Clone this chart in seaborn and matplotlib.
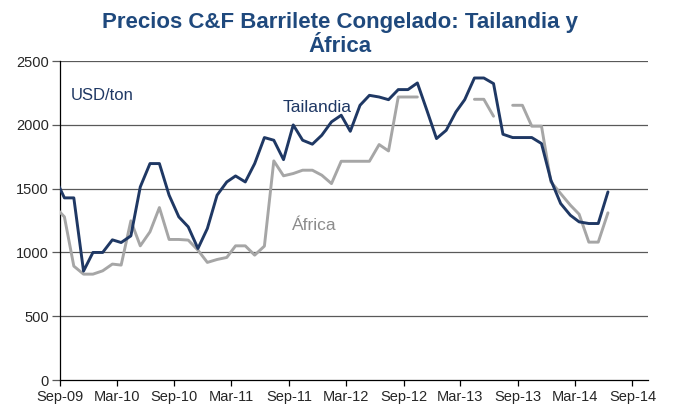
import numpy as np
import pandas as pd
import seaborn as sns
import matplotlib.pyplot as plt

# monthly prices, Aug-09 .. Jun-14 (first point sits just left of the axis)
months = pd.date_range('2009-08-01', '2014-06-01', freq='MS') + pd.Timedelta(days=14)

tailandia = [1590,
             1428, 1428, 854, 1000, 1000, 1099, 1078, 1130, 1514, 1697,
             1697, 1449, 1279, 1201, 1031, 1188, 1449, 1553, 1600, 1553,
             1697, 1901, 1880, 1728, 2000, 1880, 1849, 1919, 2024, 2076,
             1950, 2154, 2232, 2219, 2198, 2277, 2277, 2329, 2110, 1893,
             1958, 2102, 2198, 2368, 2368, 2324, 1927, 1901, 1901, 1901,
             1854, 1567, 1384, 1292, 1240, 1227, 1227, 1475]

africa = [1360,
          1279, 893, 830, 830, 856, 909, 901, 1248, 1052, 1162,
          1352, 1102, 1102, 1097, 1018, 922, 945, 961, 1052, 1052,
          979, 1050, 1718, 1601, 1619, 1645, 1645, 1606, 1540, 1715,
          1715, 1715, 1715, 1846, 1796, 2219, 2219, 2219, np.nan, np.nan,
          np.nan, np.nan, np.nan, 2201, 2201, 2068, np.nan, 2154, 2154, 1990,
          1990, 1554, 1462, 1371, 1300, 1081, 1081, 1311]

tick_dates = pd.date_range('2009-09-01', '2014-09-01', freq='6MS')
tick_labels = ['Sep-09', 'Mar-10', 'Sep-10', 'Mar-11', 'Sep-11', 'Mar-12',
               'Sep-12', 'Mar-13', 'Sep-13', 'Mar-14', 'Sep-14']

navy = '#1f3864'
grey = '#a6a6a6'

df_t = pd.DataFrame({'fecha': months, 'precio': tailandia})
df_a = pd.DataFrame({'fecha': months, 'precio': africa})
# split Africa into runs so the gaps stay open
df_a['tramo'] = df_a['precio'].isna().cumsum()
df_a = df_a.dropna()

sns.set_style("white")
plt.rcParams['font.family'] = ['Liberation Sans', 'DejaVu Sans']

fig = plt.figure(figsize=(6.79, 4.05), dpi=100)
ax = fig.add_axes([0.0884, 0.0617, 0.8656, 0.7873])

for y in [500, 1000, 1500, 2000, 2500]:
    ax.axhline(y, color='#595959', lw=0.9, zorder=1)

sns.lineplot(data=df_a, x='fecha', y='precio', units='tramo', estimator=None,
             color=grey, lw=2.1, ax=ax, zorder=3)
sns.lineplot(data=df_t, x='fecha', y='precio', color=navy, lw=2.1, ax=ax, zorder=4)

ax.set_xlim(pd.Timestamp('2009-09-01'), pd.Timestamp('2014-10-20'))
ax.set_ylim(0, 2500)
ax.set_xticks(tick_dates)
ax.set_xticklabels(tick_labels)
ax.set_yticks([0, 500, 1000, 1500, 2000, 2500])
ax.set_xlabel('')
ax.set_ylabel('')
ax.tick_params(axis='x', direction='out', length=4, width=0.9, color='black',
               labelsize=10.5, pad=3)
ax.tick_params(axis='y', direction='out', length=6, width=0.9, color='#595959',
               labelsize=10.5, pad=2)
ax.tick_params(bottom=True, left=True)

for side in ['top', 'right']:
    ax.spines[side].set_visible(False)
ax.spines['left'].set_color('black')
ax.spines['bottom'].set_color('black')
ax.spines['left'].set_linewidth(0.9)
ax.spines['bottom'].set_linewidth(0.9)

ax.text(0.018, 0.893, 'USD/ton', transform=ax.transAxes, color=navy,
        fontsize=12, va='center', ha='left')
ax.text(pd.Timestamp('2011-08-12'), 2140, 'Tailandia', color=navy,
        fontsize=12.5, va='center', ha='left')
ax.text(pd.Timestamp('2011-09-10'), 1210, 'África', color='#8c8c8c',
        fontsize=12.5, va='center', ha='left')

fig.suptitle('Precios C&F Barrilete Congelado: Tailandia y\nÁfrica', x=0.5, y=0.97,
             fontsize=16, fontweight='bold', color='#1f497d', linespacing=1.2)

fig.savefig('out.png', dpi=100)
